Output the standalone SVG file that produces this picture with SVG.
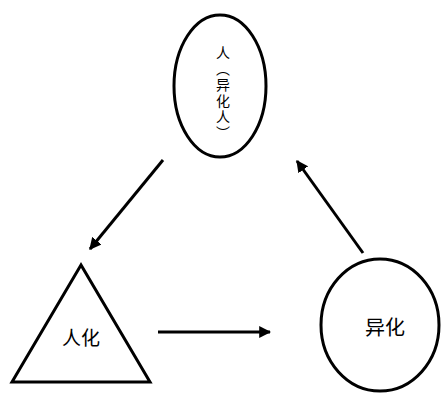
<svg xmlns="http://www.w3.org/2000/svg" width="441" height="394" viewBox="0 0 441 394">
<style>
.shape{fill:#fff;stroke:#000;stroke-width:3}
.lbl{font-family:"Noto Sans CJK SC","Noto Sans",sans-serif;fill:#000;text-anchor:middle}
.v{font-size:14px}
.conn line{stroke:#000;stroke-width:3}
</style>
<defs>
<marker id="ah" viewBox="0 0 10 10" refX="9" refY="5" markerWidth="4" markerHeight="4" orient="auto" markerUnits="strokeWidth">
<path d="M0,0 L10,5 L0,10 Z" fill="#000"/>
</marker>
</defs>
<rect width="441" height="394" fill="#fff"/>
<g id="node-ren">
<ellipse class="shape" cx="220" cy="86" rx="46" ry="71"/>
<text class="lbl v" x="223" y="58">人</text>
<text class="lbl v" x="223" y="74">︵</text>
<text class="lbl v" x="223" y="90">异</text>
<text class="lbl v" x="223" y="106">化</text>
<text class="lbl v" x="223" y="122">人</text>
<text class="lbl v" x="223" y="138">︶</text>
</g>
<g id="node-renhua">
<polygon class="shape" points="81,265 12,382 150,382"/>
<text class="lbl" font-size="19" x="81" y="345">人化</text>
</g>
<g id="node-yihua">
<ellipse class="shape" cx="380" cy="325" rx="59" ry="66"/>
<text class="lbl" font-size="20" x="385" y="335">异化</text>
</g>
<g class="conn" id="connectors">
<line x1="163" y1="160" x2="90" y2="249" marker-end="url(#ah)"/>
<line x1="363" y1="253" x2="297" y2="161" marker-end="url(#ah)"/>
<line x1="158" y1="332" x2="270" y2="332" marker-end="url(#ah)"/>
</g>
</svg>
